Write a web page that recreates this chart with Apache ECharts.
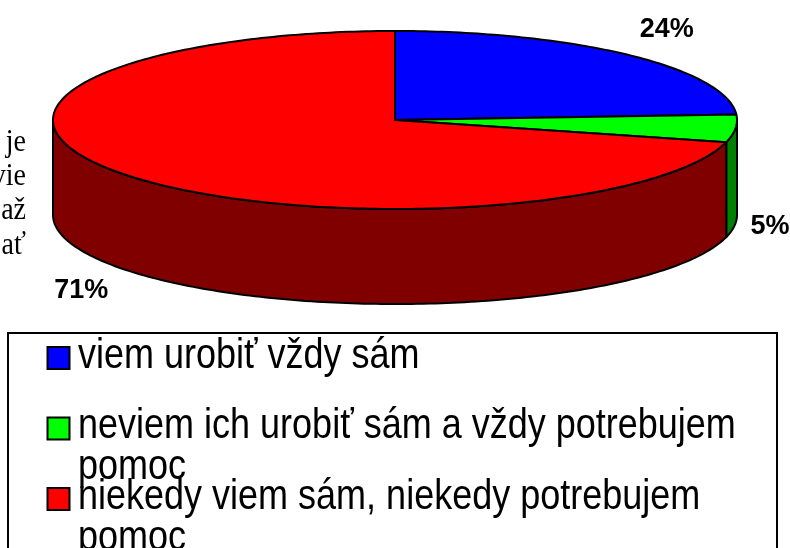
<!DOCTYPE html>
<html>
<head>
<meta charset="utf-8">
<style>
  html, body { margin: 0; padding: 0; background: #fff; }
  #chart { width: 790px; height: 548px; }
</style>
<script src="https://cdn.jsdelivr.net/npm/echarts@6/dist/echarts.min.js"></script>
</head>
<body>
<div id="chart"></div>
<script>
var categories = [
  'viem urobiť vždy sám',
  'neviem ich urobiť sám a vždy potrebujem pomoc',
  'niekedy viem sám, niekedy potrebujem pomoc'
]
var values = [24, 5, 71]
// riadky legendy tak, ako sa zalamuju v povodnom obrazku
var legendLines = [
  ['viem urobiť vždy sám'],
  ['neviem ich urobiť sám a vždy potrebujem', 'pomoc'],
  ['niekedy viem sám, niekedy potrebujem', 'pomoc']
]
// kusky textu dokumentu, ktore presahuju zlava
var sideText = ['je', 'vie', 'až', 'ať']

var topColors = ['#0000ff', '#00ff00', '#ff0000']
var sideColors = ['#000080', '#008000', '#800000']

// rozmery 3D kolaca
var cx = 395
var cy = 120
var rx = 342
var ry = 89
var depth = 95
var total = values.reduce(function (a, b) { return a + b }, 0)

function pt (deg, dy) {
  var r = deg * Math.PI / 180
  return [cx + rx * Math.sin(r), cy - ry * Math.cos(r) + (dy || 0)]
}

function arc (a1, a2, dy) {
  var pts = []
  var n = Math.max(2, Math.ceil(Math.abs(a2 - a1)))
  for (var i = 0; i <= n; i++) {
    pts.push(pt(a1 + (a2 - a1) * i / n, dy))
  }
  return pts
}

function renderSlice (params, api) {
  var idx = params.seriesIndex
  var before = 0
  for (var i = 0; i < idx; i++) before += values[i]
  var a1 = before / total * 360
  var a2 = a1 + api.value(0) / total * 360
  var children = []

  // bocna stena - iba predna polovica je vidiet
  var w1 = Math.max(a1, 90)
  var w2 = Math.min(a2, 270)
  if (w2 > w1) {
    children.push({
      type: 'polygon',
      shape: { points: arc(w1, w2, 0).concat(arc(w2, w1, depth)) },
      style: { fill: sideColors[idx], stroke: '#000', lineWidth: 2, lineJoin: 'round' }
    })
  }

  // vrchna plocha vysece
  children.push({
    type: 'polygon',
    shape: { points: [[cx, cy]].concat(arc(a1, a2, 0)) },
    style: { fill: topColors[idx], stroke: '#000', lineWidth: 2, lineJoin: 'round' }
  })

  // popisok s percentami
  var mid = (a1 + a2) / 2 * Math.PI / 180
  var down = Math.cos(mid) < 0 ? depth : 0
  var lx = cx + (rx + 55) * Math.sin(mid)
  lx = Math.min(lx, api.getWidth() - 20)
  children.push({
    type: 'text',
    x: lx,
    y: cy - (ry + 35) * Math.cos(mid) + down,
    style: {
      text: api.value(0) + '%',
      fill: '#000',
      font: 'bold 27px "Liberation Sans", Arial, sans-serif',
      align: 'center',
      verticalAlign: 'middle'
    }
  })
  return { type: 'group', children: children }
}

var series = categories.map(function (name, i) {
  return {
    type: 'custom',
    name: name,
    coordinateSystem: 'none',
    renderItem: renderSlice,
    data: [[values[i]]]
  }
})

// legenda ako v Exceli: ramcek, stvorceky a zalomeny text
var graphic = []
graphic.push({
  type: 'rect',
  shape: { x: 8, y: 333, width: 769, height: 260 },
  style: { fill: '#fff', stroke: '#000', lineWidth: 2 }
})
legendLines.forEach(function (lines, i) {
  var base = 370 + 70.5 * i
  graphic.push({
    type: 'rect',
    shape: { x: 47.5, y: base - 23, width: 22, height: 22 },
    style: { fill: topColors[i], stroke: '#000', lineWidth: 2 }
  })
  lines.forEach(function (line, j) {
    graphic.push({
      type: 'text',
      x: 78,
      y: base + 41 * j - 14,
      scaleY: 1.16,
      style: {
        text: line,
        fill: '#000',
        font: '36px "Liberation Sans", Arial, sans-serif',
        align: 'left',
        verticalAlign: 'middle'
      }
    })
  })
})
sideText.forEach(function (t, i) {
  graphic.push({
    type: 'text',
    x: 26,
    y: 152 + 34.4 * i - 10,
    scaleY: 1.16,
    style: {
      text: t,
      fill: '#000',
      font: '28px "Liberation Serif", "Times New Roman", serif',
      align: 'right',
      verticalAlign: 'middle'
    }
  })
})

var myChart = echarts.init(document.getElementById('chart'))
myChart.setOption({
  backgroundColor: '#fff',
  animation: false,
  graphic: graphic,
  series: series
})
</script>
</body>
</html>
